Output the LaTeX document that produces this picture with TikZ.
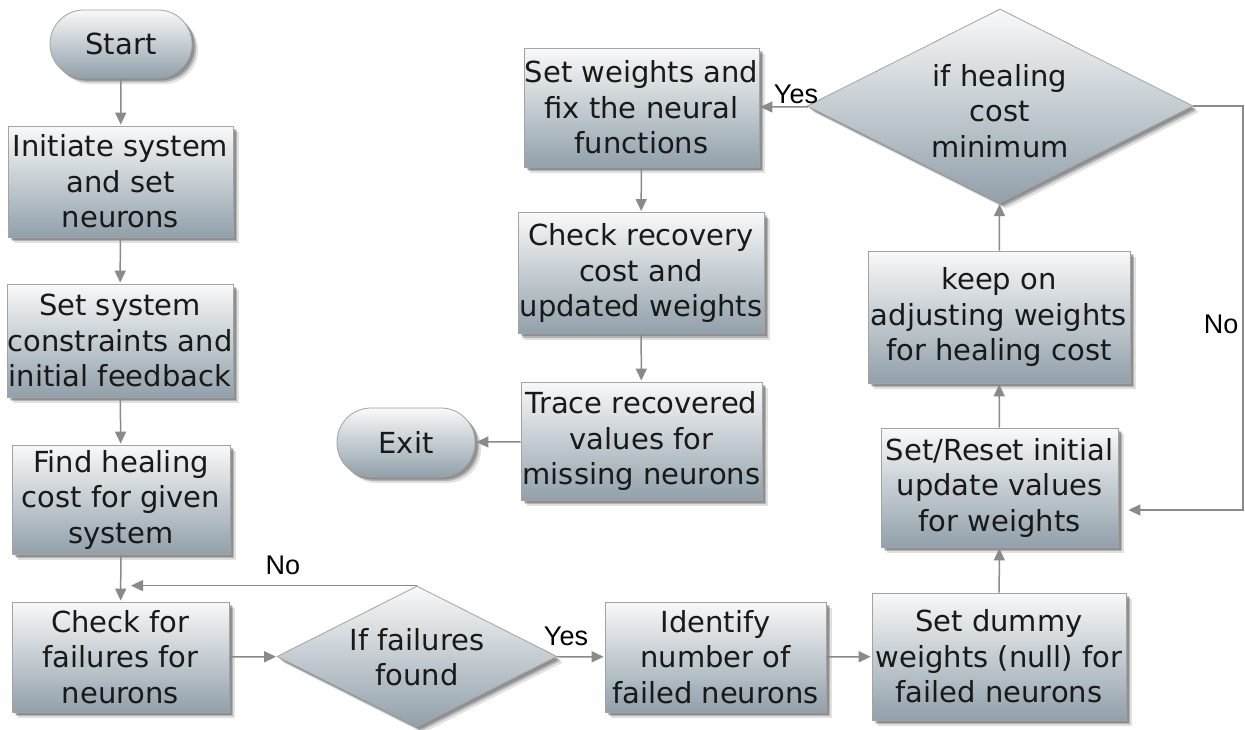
\documentclass[tikz,border=0pt]{standalone}
\usepackage{fontspec}
\setmainfont{DejaVu Sans}
\newfontfamily\labfont{Liberation Sans}
\usetikzlibrary{shapes.geometric,arrows.meta,shadows}
\definecolor{boxtop}{HTML}{F8F9FA}
\definecolor{boxbot}{HTML}{91A0AA}
\definecolor{boxline}{HTML}{A3A3A3}
\definecolor{linec}{HTML}{8A8A8A}
\begin{document}
\begin{tikzpicture}[x=1pt,y=-1pt,
  shade/.style={top color=boxtop, bottom color=boxbot, draw=boxline, line width=0.8pt,
    general shadow={shadow xshift=6pt, shadow yshift=-6pt, opacity=0.12, fill=black},
    general shadow={shadow xshift=4pt, shadow yshift=-4pt, opacity=0.2, fill=black},
    general shadow={shadow xshift=2.5pt, shadow yshift=-2.5pt, opacity=0.2, fill=black}},
  txt/.style={font=\fontsize{29}{35.5}\selectfont, text=black!90, align=center, inner sep=0pt},
  box/.style={shade, txt, rectangle},
  pill/.style={shade, txt, rectangle, rounded corners=34pt},
  dia/.style={shade, diamond, inner sep=0pt},
  lab/.style={font=\labfont\fontsize{27}{30}\selectfont, text=black, inner sep=1pt},
  arr/.style={draw=linec, line width=1.5pt, -{Triangle[length=12pt,width=11pt]}, shorten >=1pt}
]
\fill[white] (0,0) rectangle (1245,729);
\useasboundingbox (0,0) rectangle (1245,729);

% left column
\node[pill, minimum width=142pt, minimum height=68pt] (start) at (121,44) {Start};
\node[box, minimum width=225pt, minimum height=111pt] (b1) at (120.5,181.5) {Initiate system\\and set\\neurons};
\node[box, minimum width=226pt, minimum height=113pt] (b2) at (120,340.5) {Set system\\constraints and\\initial feedback};
\node[box, minimum width=218pt, minimum height=109pt] (b3) at (121,499.5) {Find healing\\cost for given\\system};
\node[box, minimum width=217pt, minimum height=110pt] (b4) at (120.5,657) {Check for\\failures for\\neurons};

% bottom row
\node[dia, minimum width=280pt, minimum height=141pt] (d1) at (417,656.5) {};
\node[txt] (d1t) at (417,657) {If failures\\found};
\node[box, minimum width=221pt, minimum height=110pt] (b5) at (715.5,657) {Identify\\number of\\failed neurons};
\node[box, minimum width=254pt, minimum height=127pt] (b6) at (999,656.5) {Set dummy\\weights (null) for\\failed neurons};

% right column
\node[box, minimum width=237pt, minimum height=119pt] (b7) at (999.5,487.5) {Set/Reset initial\\update values\\for weights};
\node[box, minimum width=262pt, minimum height=132pt] (b8) at (999,317) {keep on\\adjusting weights\\for healing cost};
\node[dia, minimum width=386pt, minimum height=194pt] (d2) at (1000,106) {};
\node[txt] (d2t) at (1000,111) {if healing\\cost\\minimum};

% middle column
\node[box, minimum width=235pt, minimum height=119pt] (b9) at (641.5,107.5) {Set weights and\\fix the neural\\functions};
\node[box, minimum width=246pt, minimum height=121pt] (b10) at (641,273) {Check recovery\\cost and\\updated weights};
\node[box, minimum width=241pt, minimum height=118pt] (b11) at (641.5,441) {Trace recovered\\values for\\missing neurons};
\node[pill, minimum width=138pt, minimum height=69pt] (exit) at (406,442.5) {Exit};

% helper coordinates
\coordinate (noend) at (130,587);
\coordinate (loopx) at (1243,106);
\coordinate (b7in) at ([yshift=-22.5pt]b7.east);

% connectors
\draw[arr] (start) -- (b1);
\draw[arr] (b1) -- (b2);
\draw[arr] (b2) -- (b3);
\draw[arr] (b3) -- (b4);
\draw[arr] (b4) -- (d1);
\draw[arr] (d1.north) -- (d1.north -| noend);
\draw[arr] (d1) -- (b5);
\draw[arr] (b5) -- (b6);
\draw[arr] (b6) -- (b7);
\draw[arr] (b7) -- (b8);
\draw[arr] (b8) -- (d2);
\draw[arr] (d2) -- (b9);
\draw[arr, shorten >=10pt] (d2.east) -- (loopx) |- (b7in);
\draw[arr] (b9) -- (b10);
\draw[arr] (b10) -- (b11);
\draw[arr] (b11) -- (exit);

% labels
\node[lab] (lno1) at (283,565) {No};
\node[lab] (lyes1) at (566,636) {Yes};
\node[lab] (lyes2) at (796,94) {Yes};
\node[lab, fill=white] (lno2) at (1221,324) {No};
\end{tikzpicture}
\end{document}
